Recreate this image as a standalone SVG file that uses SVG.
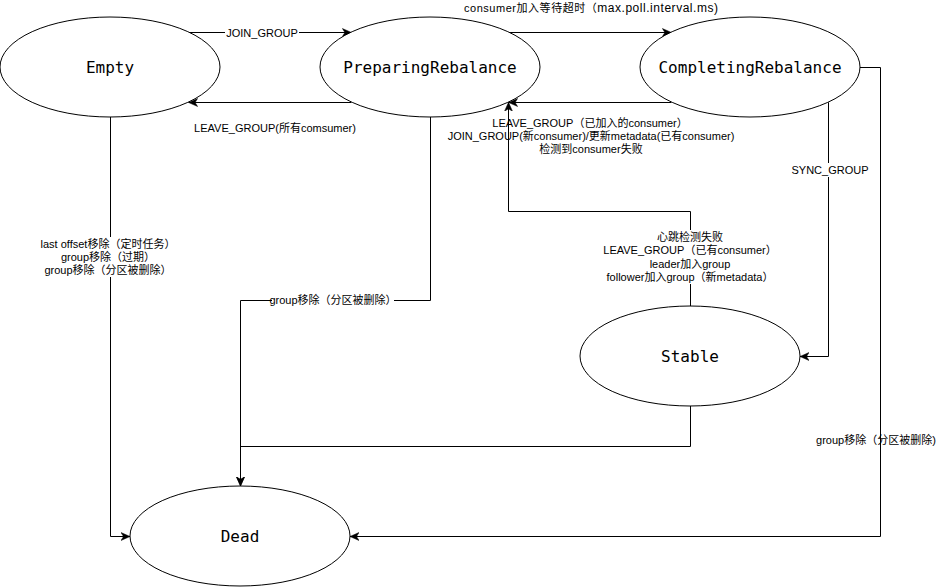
<svg xmlns="http://www.w3.org/2000/svg" width="944" height="588" viewBox="0 0 944 588">
<style>
.node{fill:#fff;stroke:#000;stroke-width:1}
.nl{font-family:"DejaVu Sans Mono","Liberation Mono",monospace;font-size:16px;text-anchor:middle;fill:#000}
.edge{fill:none;stroke:#000;stroke-width:1}
.el{font-family:"Liberation Sans","Noto Sans CJK SC",sans-serif;font-size:11px;text-anchor:middle;fill:#000}
.bg{fill:#fff}
</style>
<defs>
<marker id="arr" markerUnits="userSpaceOnUse" markerWidth="10" markerHeight="10" viewBox="0 0 10 10" refX="9" refY="5" orient="auto">
<path d="M0,1 L9,5 L0,9 L2.5,5 z" fill="#000" stroke="#000" stroke-width="0.5"/>
</marker>
</defs>
<rect width="944" height="588" fill="#fff"/>
<g id="connectors">
<path class="edge" d="M188.6,32.5 L351.4,32.5" marker-end="url(#arr)"/>
<path class="edge" d="M351.4,102.5 L188.6,102.5" marker-end="url(#arr)"/>
<path class="edge" d="M508.6,32.5 L671.4,32.5" marker-end="url(#arr)"/>
<path class="edge" d="M671.4,102.5 L508.6,102.5" marker-end="url(#arr)"/>
<path class="edge" d="M690.5,306 L690.5,211.5 L508.5,211.5 L508.5,102.3" marker-end="url(#arr)"/>
<path class="edge" d="M828.5,102.3 L828.5,356.5 L800,356.5" marker-end="url(#arr)"/>
<path class="edge" d="M860,67.5 L880.5,67.5 L880.5,536.5 L350,536.5" marker-end="url(#arr)"/>
<path class="edge" d="M430.5,117 L430.5,300.5 L240.5,300.5 L240.5,486" marker-end="url(#arr)"/>
<path class="edge" d="M690.5,406 L690.5,446.5 L240.5,446.5 L240.5,486" marker-end="url(#arr)"/>
<path class="edge" d="M110.5,117 L110.5,536.5 L130,536.5" marker-end="url(#arr)"/>
</g>
<g id="edge-labels">
<rect class="bg" x="225" y="26" width="74" height="14"/>
<text class="el" x="262" y="37">JOIN_GROUP</text>
<text class="el" x="275" y="132">LEAVE_GROUP(所有comsumer)</text>
<text class="el" x="591" y="12" textLength="254" lengthAdjust="spacing">consumer加入等待超时（<tspan font-size="12">max.poll.interval.ms)</tspan></text>
<text class="el" x="590" y="127">LEAVE_GROUP（已加入的consumer）</text>
<text class="el" x="591" y="140">JOIN_GROUP(新consumer)/更新metadata(已有consumer)</text>
<text class="el" x="591" y="153">检测到consumer失败</text>
<rect class="bg" x="604" y="230" width="172" height="54"/>
<text class="el" x="690" y="241">心跳检测失败</text>
<text class="el" x="690" y="254">LEAVE_GROUP（已有consumer）</text>
<text class="el" x="690" y="268">leader加入group</text>
<text class="el" x="690" y="281">follower加入group（新metadata）</text>
<rect class="bg" x="791" y="163" width="78" height="14"/>
<text class="el" x="830" y="174">SYNC_GROUP</text>
<text class="el" x="876" y="444">group移除（分区被删除)</text>
<rect class="bg" x="272" y="293" width="122" height="14"/>
<text class="el" x="333" y="304">group移除（分区被删除）</text>
<rect class="bg" x="42" y="237" width="134" height="40"/>
<text class="el" x="108" y="248">last offset移除（定时任务）</text>
<text class="el" x="108" y="261">group移除（过期）</text>
<text class="el" x="108" y="274">group移除（分区被删除）</text>
</g>
<g id="node-empty">
<ellipse class="node" cx="110" cy="67" rx="110" ry="50"/>
<text class="nl" x="110" y="73">Empty</text>
</g>
<g id="node-preparing">
<ellipse class="node" cx="430" cy="67" rx="110" ry="50"/>
<text class="nl" x="430" y="73">PreparingRebalance</text>
</g>
<g id="node-completing">
<ellipse class="node" cx="750" cy="67" rx="110" ry="50"/>
<text class="nl" x="750" y="73">CompletingRebalance</text>
</g>
<g id="node-stable">
<ellipse class="node" cx="690" cy="356" rx="110" ry="50"/>
<text class="nl" x="690" y="362">Stable</text>
</g>
<g id="node-dead">
<ellipse class="node" cx="240" cy="536" rx="110" ry="50"/>
<text class="nl" x="240" y="542">Dead</text>
</g>
</svg>
